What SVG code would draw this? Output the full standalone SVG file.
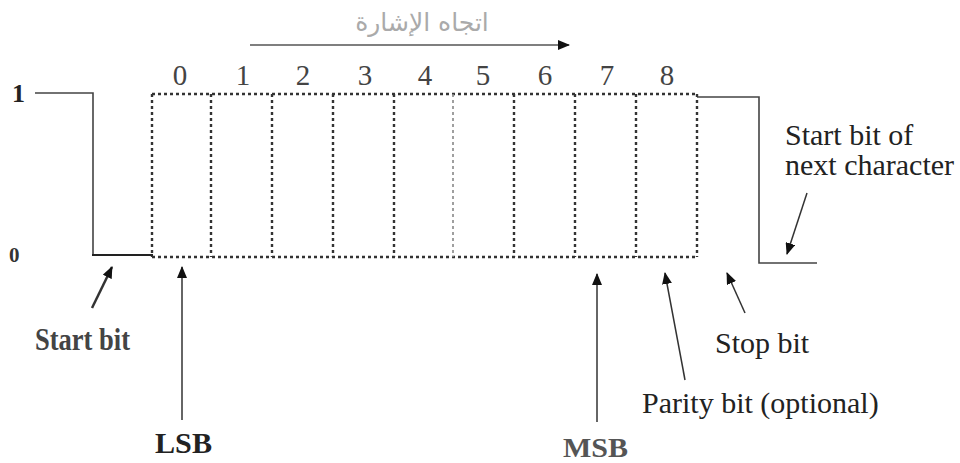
<svg xmlns="http://www.w3.org/2000/svg" width="960" height="463" viewBox="0 0 960 463">
<style>
.t{font-family:"Liberation Serif","Times New Roman",serif;font-size:30px;fill:#222}
.b{font-weight:bold}
.d{font-family:"Liberation Serif","Times New Roman",serif;font-size:29px;fill:#444;text-anchor:middle}
.sig{fill:none;stroke:#444;stroke-width:1.6}
.dot{fill:none;stroke:#333;stroke-width:2.4;stroke-dasharray:3 3}
.arr{fill:none;stroke:#333;stroke-width:1.5;marker-end:url(#ah)}
</style>
<defs>
<marker id="ah" viewBox="0 0 12 10" refX="11" refY="5" markerWidth="12" markerHeight="10" markerUnits="userSpaceOnUse" orient="auto">
<path d="M0,0 L12,5 L0,10 Z" fill="#111"/>
</marker>
</defs>
<rect width="960" height="463" fill="#fff"/>

<g id="levels">
<text class="t b" x="12" y="102" style="font-size:26px">1</text>
<text class="t b" x="9" y="262" style="font-size:21px;fill:#333">0</text>
</g>

<g id="signal">
<polyline class="sig" points="35,93 93,93 93,255"/>
<line x1="92" y1="255" x2="153" y2="255" stroke="#222" stroke-width="2"/>
<polyline class="sig" points="697,97 759,97 759,263 817,263"/>
</g>

<g id="frame">
<path class="dot" d="M152,94 H697 M152,257 H697"/>
<path class="dot" d="M152,94 V257 M211,94 V257 M272,94 V257 M333,94 V257 M394,94 V257 M514,94 V257 M575,94 V257 M636,94 V257 M697,94 V257"/>
<path d="M453,94 V257" fill="none" stroke="#888" stroke-width="1.6" stroke-dasharray="3 3"/>
</g>

<g id="bits">
<text class="d" x="180" y="85">0</text>
<text class="d" x="243" y="85">1</text>
<text class="d" x="303" y="85">2</text>
<text class="d" x="365" y="85">3</text>
<text class="d" x="425" y="85">4</text>
<text class="d" x="483" y="85">5</text>
<text class="d" x="545" y="85">6</text>
<text class="d" x="607" y="85">7</text>
<text class="d" x="667" y="85">8</text>
</g>

<g id="direction">
<text x="422" y="31" text-anchor="middle" style="font-family:'DejaVu Sans','Noto Sans',sans-serif;font-size:25px;fill:#aaa" direction="rtl">اتجاه الإشارة</text>
</g>

<g id="connectors">
<line class="arr" x1="250" y1="45" x2="569" y2="45" style="stroke:#555"/>
<line class="arr" x1="92" y1="308" x2="112" y2="267" style="stroke-width:2.5"/>
<line class="arr" x1="182" y1="420" x2="182" y2="267"/>
<line class="arr" x1="597" y1="422" x2="597" y2="274"/>
<line class="arr" x1="685" y1="380" x2="665" y2="273"/>
<line class="arr" x1="745" y1="313" x2="727" y2="273"/>
<line class="arr" x1="807" y1="193" x2="787" y2="254"/>
</g>

<g id="labels">
<text class="t b" x="35" y="350" textLength="95" lengthAdjust="spacingAndGlyphs" style="font-size:32px;fill:#444">Start bit</text>
<text class="t b" x="155" y="453" textLength="57" lengthAdjust="spacingAndGlyphs" style="font-size:30px;fill:#222">LSB</text>
<text class="t b" x="563" y="457" textLength="65" lengthAdjust="spacingAndGlyphs" style="font-size:28px;fill:#555">MSB</text>
<text class="t" x="715" y="353">Stop bit</text>
<text class="t" x="642" y="413">Parity bit (optional)</text>
<text class="t" x="785" y="145">Start bit of</text>
<text class="t" x="785" y="175">next character</text>
</g>
</svg>
